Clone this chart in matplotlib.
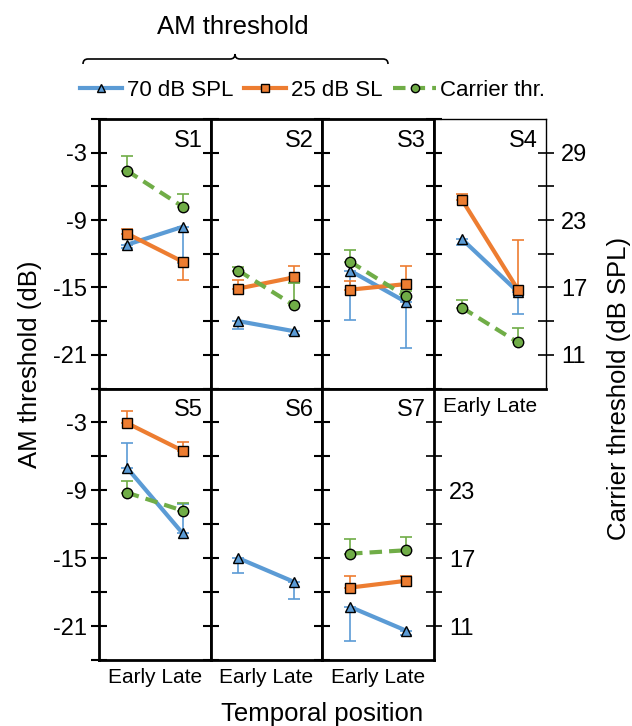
import numpy as np
import matplotlib.pyplot as plt
from matplotlib.lines import Line2D
from matplotlib.path import Path
from matplotlib.patches import PathPatch

plt.rcParams['font.family'] = ['Liberation Sans', 'DejaVu Sans']
plt.rcParams['axes.unicode_minus'] = False

W, H = 632, 726

subjects = ["S1", "S2", "S3", "S4", "S5", "S6", "S7"]
positions = [1, 2]  # Early, Late

# AM threshold (dB), 70 dB SPL carrier; error: + goes up, - goes down
spl70 = [[-11.2, -9.6], [-18.0, -18.9], [-13.5, -16.3], [-10.7, -15.4],
         [-7.0, -12.8], [-15.0, -17.1], [-19.3, -21.4]]
spl70_err = [[-0.3, -3.2], [-0.7, -0.3], [-4.4, -4.1], [-0.5, -2.0],
             [2.2, 2.6], [-1.3, -1.5], [-3.0, -0.4]]

# AM threshold (dB), 25 dB SL carrier
sl25 = [[-10.2, -12.7], [-15.1, -14.1], [-15.2, -14.7], [-7.2, -15.2],
        [-3.05, -5.5], None, [-17.6, -17.0]]
sl25_err = [[0.4, -1.6], [0.8, 1.0], [0.8, 1.6], [0.5, 4.4],
            [1.1, 0.8], None, [1.0, 0.4]]

# carrier threshold (dB SPL)
carrier = [[27.4, 24.2], [18.5, 15.4], [19.3, 16.2], [15.2, 12.1],
           [22.8, 21.2], None, [17.4, 17.7]]
carrier_err = [[1.3, 1.1], [0.3, 2.0], [1.0, 0.5], [0.7, 1.3],
               [1.0, 0.7], None, [1.3, 1.2]]

blue = "#5B9BD5"
orange = "#ED7D31"
green = "#70AD47"

fig = plt.figure(figsize=(W / 100, H / 100), dpi=100)


def rect(x0, y0, x1, y1):
    return [x0 / W, 1 - y1 / H, (x1 - x0) / W, (y1 - y0) / H]


def split_err(e):
    e = np.array(e)
    return [np.clip(-e, 0, None), np.clip(e, 0, None)]


def draw_series(ax, y, err, color, marker, ls, ms):
    ax.errorbar(positions, y, yerr=split_err(err), fmt="none", ecolor=color,
                elinewidth=1.2, capsize=4, capthick=1.2, zorder=2)
    ax.plot(positions, y, color=color, lw=3, ls=ls, marker=marker, ms=ms,
            mfc=color, mec="black", mew=1, zorder=3,
            dashes=(3, 1.7) if ls == "--" else (None, None))


cols = [99, 210.5, 322, 434, 546]
rows = [(119, 388.5), (388.5, 660)]
cells = [(0, 0), (0, 1), (0, 2), (0, 3), (1, 0), (1, 1), (1, 2)]

for i, s in enumerate(subjects):
    r, c = cells[i]
    y0, y1 = rows[r]
    ax = fig.add_axes(rect(cols[c], y0, cols[c + 1], y1))
    ax.set_xlim(0.5, 2.5)
    ax.set_ylim(-24, 0)
    for sp in ax.spines.values():
        sp.set_linewidth(2)
    if s == "S4":
        ax.spines["top"].set_linewidth(1)
        ax.spines["right"].set_linewidth(1)
    ax.set_yticks([-21, -15, -9, -3])
    ax.set_yticks([-24, -18, -12, -6, 0], minor=True)
    ax.tick_params(axis="y", which="both", direction="inout", length=12,
                   width=1.5, labelsize=17, pad=3)
    if c != 0:
        ax.tick_params(axis="y", labelleft=False)
    if r == 1 or s == "S4":
        ax.set_xticks([1.5])
        ax.set_xticklabels(["Early Late"], fontsize=15)
        ax.tick_params(axis="x", length=0, pad=6)
    else:
        ax.set_xticks([])
    ax.text(0.93, 0.96, s, transform=ax.transAxes, ha="right", va="top",
            fontsize=17)

    draw_series(ax, spl70[i], spl70_err[i], blue, "^", "-", 7.5)
    if sl25[i] is not None:
        draw_series(ax, sl25[i], sl25_err[i], orange, "s", "-", 7)

    tw = ax.twinx()
    tw.set_ylim(8, 32)
    for sp in tw.spines.values():
        sp.set_visible(False)
    if s in ("S4", "S7"):
        tw.set_yticks([11, 17, 23, 29])
        tw.set_yticks([14, 20, 26], minor=True)
        tw.set_yticklabels(["11", "17", "23", "29" if s == "S4" else ""])
        tw.tick_params(axis="y", which="both", direction="inout", length=12,
                       width=1.2, labelsize=17, pad=5)
    else:
        tw.set_yticks([])
    if carrier[i] is not None:
        draw_series(tw, carrier[i], carrier_err[i], green, "o", "--", 7.5)

# legend
handles = [
    Line2D([], [], color=blue, lw=3, marker="^", ms=6, mfc=blue, mec="black"),
    Line2D([], [], color=orange, lw=3, marker="s", ms=6, mfc=orange, mec="black"),
    Line2D([], [], color=green, lw=3, ls="--", dashes=(3, 1.7), marker="o",
           ms=6, mfc=green, mec="black"),
]
fig.legend(handles, ["70 dB SPL", "25 dB SL", "Carrier thr."], ncol=3,
           loc="center left", bbox_to_anchor=(80 / W, 1 - 90 / H),
           frameon=False, fontsize=16, handlelength=1.9, handletextpad=0.2,
           columnspacing=0.5, borderaxespad=0, borderpad=0)

# brace over the two AM-threshold legend entries
bx0, bx1, bxm, by = 83, 388, 235, 59
pts = [(bx0, by + 5), (bx0, by), (bx0 + 5, by), (bxm - 5, by), (bxm, by),
       (bxm, by - 5), (bxm, by), (bxm + 5, by), (bx1 - 5, by), (bx1, by),
       (bx1, by + 5)]
codes = [Path.MOVETO, Path.CURVE3, Path.CURVE3, Path.LINETO, Path.CURVE3,
         Path.CURVE3, Path.CURVE3, Path.CURVE3, Path.LINETO, Path.CURVE3,
         Path.CURVE3]
brace = Path([(x / W, 1 - y / H) for x, y in pts], codes)
fig.patches.append(PathPatch(brace, fill=False, lw=1.2, color="black",
                             transform=fig.transFigure, figure=fig))

fig.text(233 / W, 1 - 27 / H, "AM threshold", ha="center", va="center",
         fontsize=18.5)
fig.text(30 / W, 1 - 364 / H, "AM threshold (dB)", rotation=90,
         ha="center", va="center", fontsize=18.5)
fig.text(619 / W, 1 - 388 / H, "Carrier threshold (dB SPL)", rotation=90,
         ha="center", va="center", fontsize=18.5)
fig.text(322 / W, 1 - 714 / H, "Temporal position", ha="center",
         va="center", fontsize=18.5)

plt.savefig("out.png", dpi=100)
